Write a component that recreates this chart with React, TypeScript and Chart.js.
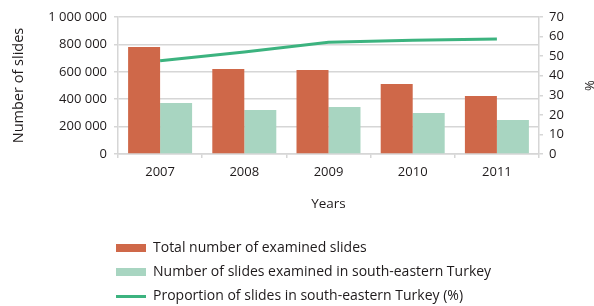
import { useEffect, useRef } from "react";
import { Chart, registerables } from "chart.js";

Chart.register(...registerables);

const years = ["2007", "2008", "2009", "2010", "2011"];
const totalSlides = [781000, 620000, 613000, 511000, 423000];
const southEastSlides = [372000, 321000, 343000, 299000, 248000];
const proportionSouthEast = [47.6, 52.1, 57.1, 58.1, 58.8];

const seriesLabels = [
  "Total number of examined slides",
  "Number of slides examined in south-eastern Turkey",
  "Proportion of slides in south-eastern Turkey (%)",
];

const COLOR_TOTAL = "#cf6849";
const COLOR_SE = "#a8d5c1";
const COLOR_LINE = "#3cb37f";
const TEXT = "#1e1a1b";
const GRID = "#d6d6d6";
const FONT = "'Open Sans', 'Noto Sans', sans-serif";

const fmtThousands = (v: number) =>
  String(Math.round(v)).replace(/\B(?=(\d{3})+(?!\d))/g, " ");

const rowLegend = {
  id: "rowLegend",
  afterDraw(chart: any) {
    const ctx = chart.ctx as CanvasRenderingContext2D;
    const left = chart.chartArea.left - 2;
    const rowsY = [chart.height - 58, chart.height - 34, chart.height - 9.5];
    ctx.save();
    ctx.font = `14px ${FONT}`;
    ctx.textBaseline = "middle";
    ctx.textAlign = "left";
    chart.data.datasets.forEach((ds: any, i: number) => {
      const y = rowsY[i];
      if (ds.type === "line") {
        ctx.strokeStyle = ds.borderColor;
        ctx.lineWidth = 3;
        ctx.beginPath();
        ctx.moveTo(left, y);
        ctx.lineTo(left + 30, y);
        ctx.stroke();
      } else {
        ctx.fillStyle = ds.backgroundColor;
        ctx.fillRect(left, y - 4, 30, 8);
      }
      ctx.fillStyle = TEXT;
      ctx.fillText(ds.label, left + 37, y);
    });
    ctx.restore();
  },
};

export default function App() {
  const ref = useRef<HTMLCanvasElement | null>(null);

  useEffect(() => {
    if (!ref.current) return;
    Chart.defaults.font.family = FONT;
    Chart.defaults.font.size = 13;
    Chart.defaults.color = TEXT;
    const chart = new Chart(ref.current, {
      type: "bar",
      data: {
        labels: years,
        datasets: [
          {
            type: "bar",
            label: seriesLabels[0],
            data: totalSlides,
            backgroundColor: COLOR_TOTAL,
            yAxisID: "y",
            order: 1,
            categoryPercentage: 0.76,
            barPercentage: 1,
          },
          {
            type: "bar",
            label: seriesLabels[1],
            data: southEastSlides,
            backgroundColor: COLOR_SE,
            yAxisID: "y",
            order: 1,
            categoryPercentage: 0.76,
            barPercentage: 1,
          },
          {
            type: "line",
            label: seriesLabels[2],
            data: proportionSouthEast,
            borderColor: COLOR_LINE,
            backgroundColor: COLOR_LINE,
            borderWidth: 3,
            pointRadius: 0,
            tension: 0,
            yAxisID: "y1",
            order: 0,
          } as any,
        ],
      },
      options: {
        animation: false,
        responsive: true,
        maintainAspectRatio: false,
        layout: { padding: { top: 17, bottom: 93, left: 0, right: 0 } },
        plugins: {
          legend: { display: false },
          tooltip: { enabled: false },
        },
        scales: {
          x: {
            offset: true,
            grid: {
              offset: true,
              drawOnChartArea: false,
              drawTicks: true,
              tickLength: 4,
              color: GRID,
              lineWidth: 1.5,
            },
            border: { color: GRID, width: 1.5 },
            ticks: { color: TEXT, padding: 6, font: { size: 13 } },
            title: {
              display: true,
              text: "Years",
              color: TEXT,
              font: { size: 13.5 },
              padding: { top: 0, bottom: 1 },
            },
            afterFit(s: any) {
              s.height = 59;
            },
          },
          y: {
            position: "left",
            min: 0,
            max: 1000000,
            ticks: {
              stepSize: 200000,
              color: TEXT,
              padding: 7,
              font: { size: 13 },
              callback: (v: any) => fmtThousands(Number(v)),
            },
            grid: {
              color: GRID,
              lineWidth: 1.5,
              drawTicks: true,
              tickLength: 4,
            },
            border: { color: GRID, width: 1.5 },
            title: {
              display: true,
              text: "Number of slides",
              color: TEXT,
              font: { size: 14.5 },
              padding: { top: 10, bottom: 0 },
            },
            afterFit(s: any) {
              s.width = 118;
            },
          },
          y1: {
            position: "right",
            min: 0,
            max: 70,
            ticks: { stepSize: 10, color: TEXT, padding: 6, font: { size: 13 } },
            grid: {
              drawOnChartArea: false,
              drawTicks: true,
              tickLength: 4,
              color: GRID,
              lineWidth: 1.5,
            },
            border: { color: GRID, width: 1.5 },
            title: {
              display: true,
              text: "%",
              color: TEXT,
              font: { size: 13, lineHeight: 1 },
              padding: { top: -1, bottom: 0 },
            },
            afterFit(s: any) {
              s.width = 55;
            },
          },
        },
      },
      plugins: [rowLegend],
    });
    return () => chart.destroy();
  }, []);

  return (
    <div style={{ position: "absolute", left: 0, top: 0, width: 594, height: 306 }}>
      <canvas ref={ref} />
    </div>
  );
}
